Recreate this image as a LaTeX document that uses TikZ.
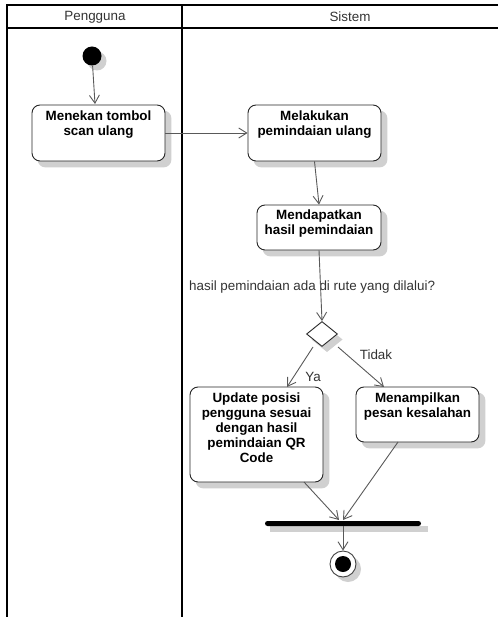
\documentclass[tikz,border=0pt]{standalone}
\usepackage{fontspec}
\setmainfont{Liberation Sans}
\usetikzlibrary{arrows.meta,shapes.geometric,backgrounds}
\definecolor{shadowgrey}{RGB}{208,208,208}
\tikzset{
  lane/.style={line width=1.8pt, black},
  actbox/.style={draw=black!85, line width=0.9pt, fill=white, rounded corners=8pt, inner sep=0pt},
  boxshadow/.style={fill=shadowgrey, rounded corners=8pt},
  acttext/.style={font=\fontsize{13.4}{15}\selectfont\bfseries, align=center, anchor=north, inner sep=0pt},
  flow/.style={draw=black!65, line width=0.9pt, -{Straight Barb[length=8pt,width=10pt,line width=0.9pt]}},
  lbl/.style={font=\fontsize{13.4}{15}\selectfont, text=black!80, inner sep=0pt}
}
% soft grey shadow behind an action box
\newcommand{\castshadow}[1]{%
  \begin{scope}[on background layer]
    \fill[boxshadow] ([xshift=6pt,yshift=-6pt]#1.north west) rectangle ([xshift=6pt,yshift=-6pt]#1.south east);
  \end{scope}}
\begin{document}
\begin{tikzpicture}[x=1pt,y=-1pt]
\useasboundingbox (0,0) rectangle (498,617);
% swimlane frame
\draw[lane] (498,5) -- (7,5) -- (7,617);
\draw[lane] (7,28) -- (498,28);
\draw[lane] (182,5) -- (182,617);
\node[lbl] (hp) at (95,17) {Pengguna};
\node[lbl] (hs) at (350,17) {Sistem};
% initial node
\fill[shadowgrey] (97,61) circle (9.5);
\node[circle, fill=black, minimum size=19pt, inner sep=0pt] (start) at (92,56) {};
% actions
\node[actbox, minimum width=133pt, minimum height=56pt] (a1) at (98.5,133) {};
\node[acttext] (t1) at (98.5,111) {Menekan tombol\\scan ulang};
\node[actbox, minimum width=133pt, minimum height=56pt] (a2) at (314.5,133) {};
\node[acttext] (t2) at (314.5,111) {Melakukan\\pemindaian ulang};
\node[actbox, minimum width=124pt, minimum height=45pt] (a3) at (319,227.5) {};
\node[acttext] (t3) at (319,210) {Mendapatkan\\hasil pemindaian};
% decision
\fill[shadowgrey] (327,327) -- (342.5,339.5) -- (327,352) -- (311.5,339.5) -- cycle;
\node[diamond, draw=black!85, line width=0.9pt, fill=white, minimum width=31pt, minimum height=25pt, inner sep=0pt, aspect=1.24] (d) at (322,334) {};
\node[lbl, anchor=west] (q) at (189,287) {hasil pemindaian ada di rute yang dilalui?};
\node[actbox, minimum width=133pt, minimum height=95pt] (a4) at (256.5,434.5) {};
\node[acttext] (t4) at (256.5,393) {Update posisi\\pengguna sesuai\\dengan hasil\\pemindaian QR\\Code};
\node[actbox, minimum width=123pt, minimum height=55pt] (a5) at (417.5,414.5) {};
\node[acttext] (t5) at (417.5,393) {Menampilkan\\pesan kesalahan};
\castshadow{a1}
\castshadow{a2}
\castshadow{a3}
\castshadow{a4}
\castshadow{a5}
% join bar
\fill[shadowgrey] (270,526) rectangle (428,532);
\node[fill=black, rounded corners=2.5pt, minimum width=156pt, minimum height=5pt, inner sep=0pt] (bar) at (343,523.5) {};
% final node
\fill[shadowgrey] (348,569) circle (13);
\node[circle, draw=black!75, line width=0.9pt, fill=white, minimum size=26pt, inner sep=0pt] (end) at (343,564) {};
\fill[black] (end.center) circle (8);
% flows
\draw[flow] (start) -- (95,104);
\draw[flow] (a1.east) -- (a2.west);
\draw[flow] (a2.south) -- (a3.north);
\draw[flow] (a3.south) -- (d.north);
\coordinate (dl) at (313,347);
\coordinate (dr) at (338,347);
\draw[flow] (dl) -- (287,387);
\draw[flow] (dr) -- (384,387);
\node[lbl] (ya) at (313,377) {Ya};
\node[lbl] (td) at (376,355) {Tidak};
\coordinate (j1) at (339,520);
\coordinate (j2) at (343,520);
\draw[flow] (304,482) -- (j1);
\draw[flow] (398,442) -- (j2);
\draw[flow] (bar.south) -- (end.north);
\end{tikzpicture}
\end{document}
